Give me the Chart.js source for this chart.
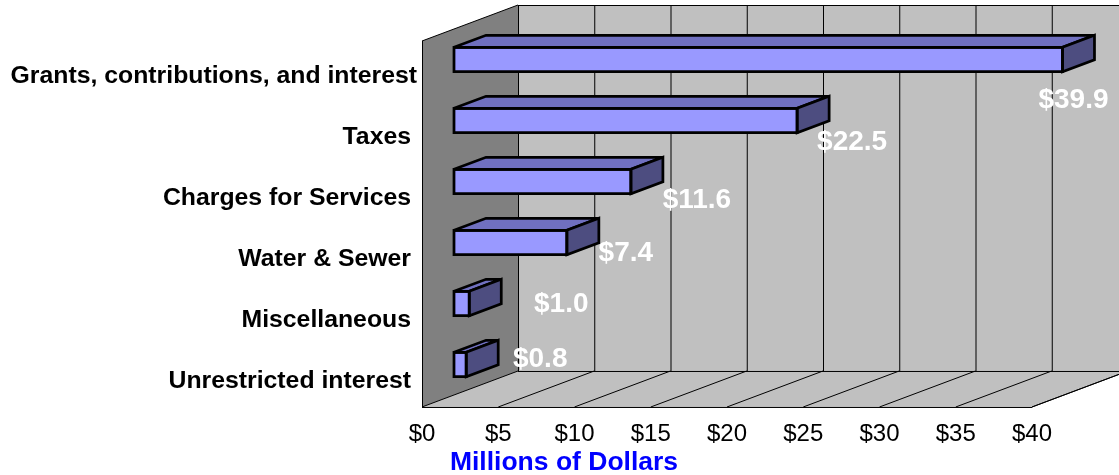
<!DOCTYPE html>
<html>
<head>
<meta charset="utf-8">
<title>Revenues by source</title>
<script src="https://cdn.jsdelivr.net/npm/chart.js@4/dist/chart.umd.js"></script>
<style>
  html, body { margin: 0; padding: 0; background: #fff; }
  canvas { display: block; }
</style>
</head>
<body>
<canvas id="revChart" width="1119" height="475"></canvas>
<script>
const categories = [
  "Grants, contributions, and interest",
  "Taxes",
  "Charges for Services",
  "Water & Sewer",
  "Miscellaneous",
  "Unrestricted interest"
];
const revenues = [39.9, 22.5, 11.6, 7.4, 1.0, 0.8];
const valueLabels = ["$39.9", "$22.5", "$11.6", "$7.4", "$1.0", "$0.8"];
const xTickLabels = ["$0", "$5", "$10", "$15", "$20", "$25", "$30", "$35", "$40"];

// hand placed data labels, px from the end of each bar to the label centre
const labelNudgeX = [11, 55, 66, 59, 92, 74];
const labelNudgeY = [41, 22, 19, 11, 1, -5];

// the bars stand in the middle third of the floor depth
const depthX = 32;
const depthY = 12;

function poly(ctx, pts, fill) {
  ctx.beginPath();
  pts.forEach((p, i) => i ? ctx.lineTo(p[0], p[1]) : ctx.moveTo(p[0], p[1]));
  ctx.closePath();
  if (fill) {
    ctx.fillStyle = fill;
    ctx.fill();
  }
}

function line(ctx, x1, y1, x2, y2) {
  ctx.beginPath();
  ctx.moveTo(x1, y1);
  ctx.lineTo(x2, y2);
  ctx.stroke();
}

const box3d = {
  id: "box3d",
  afterUpdate(chart) {
    const ys = chart.scales.y;
    // labels get clipped to the scale box, so open it up to the canvas edge
    ys.left = 0;
    // the long label sits further right than the others in the original
    ys.getLabelItems()[0].options.translation[0] += 6;
  },
  beforeDatasetsDraw(chart) {
    const ctx = chart.ctx;
    const area = chart.chartArea;
    const xs = chart.scales.x;
    const frontL = xs.getPixelForValue(0) - depthX;
    const frontR = xs.getPixelForValue(40) - depthX;
    const backL = frontL + depthX * 3;
    const backR = frontR + depthX * 3;
    const frontT = area.top + depthY;
    const frontB = area.bottom + depthY;
    const backT = frontT - depthY * 3;
    const backB = frontB - depthY * 3;

    ctx.save();
    poly(ctx, [[backL, backT], [backR, backT], [backR, backB], [backL, backB]], "#c0c0c0");
    poly(ctx, [[frontL, frontB], [frontR, frontB], [backR, backB], [backL, backB]], "#c0c0c0");
    poly(ctx, [[frontL, frontT], [backL, backT], [backL, backB], [frontL, frontB]], "#808080");

    ctx.strokeStyle = "#000";
    ctx.lineWidth = 1;
    xTickLabels.forEach((t, i) => {
      const v = i * 5;
      const fx = xs.getPixelForValue(v) - depthX;
      const bx = fx + depthX * 3;
      line(ctx, bx + 0.5, backT, bx + 0.5, backB);
      line(ctx, fx, frontB, bx, backB);
    });
    line(ctx, backL, backT + 0.5, backR, backT + 0.5);
    line(ctx, backL, backB + 0.5, backR, backB + 0.5);
    line(ctx, frontL, frontB + 0.5, frontR, frontB + 0.5);
    line(ctx, frontL + 0.5, frontT, frontL + 0.5, frontB);
    line(ctx, frontL, frontT, backL, backT);
    line(ctx, frontR, frontB, backR, backB);
    ctx.restore();
  },
  afterDatasetsDraw(chart) {
    const ctx = chart.ctx;
    const bars = chart.getDatasetMeta(0).data;
    ctx.save();
    ctx.strokeStyle = "#000";
    ctx.lineWidth = 2.75;
    ctx.lineJoin = "miter";
    ctx.miterLimit = 2;
    bars.forEach(el => {
      const l = el.base, r = el.x;
      const t = el.y - el.height / 2, b = el.y + el.height / 2;
      poly(ctx, [[l, t], [l + depthX, t - depthY], [r + depthX, t - depthY], [r, t]], "#7070c0");
      ctx.stroke();
      poly(ctx, [[r, t], [r + depthX, t - depthY], [r + depthX, b - depthY], [r, b]], "#4d4d80");
      ctx.stroke();
      poly(ctx, [[l, t], [r, t], [r, b], [l, b]]);
      ctx.stroke();
    });

    ctx.fillStyle = "#fff";
    ctx.font = "bold 28px 'Liberation Sans'";
    ctx.textAlign = "center";
    ctx.textBaseline = "middle";
    bars.forEach((el, i) => {
      ctx.fillText(valueLabels[i], el.x + labelNudgeX[i], el.y + labelNudgeY[i]);
    });
    ctx.restore();
  }
};

Chart.defaults.font.family = "'Liberation Sans', Arial, sans-serif";

new Chart(document.getElementById("revChart"), {
  type: "bar",
  plugins: [box3d],
  data: {
    labels: categories,
    datasets: [{
      data: revenues,
      backgroundColor: "#9999ff",
      borderWidth: 0,
      barPercentage: 0.4,
      categoryPercentage: 1
    }]
  },
  options: {
    indexAxis: "y",
    responsive: false,
    animation: false,
    layout: { autoPadding: false, padding: { top: 29, right: 55, left: 64, bottom: 0 } },
    plugins: {
      legend: { display: false },
      tooltip: { enabled: false },
      title: {
        display: true,
        position: "bottom",
        text: "Millions of Dollars",
        color: "#0000ff",
        font: { size: 26.5, weight: "bold", lineHeight: 0.925 },
        padding: 0
      }
    },
    scales: {
      x: {
        min: 0,
        max: 40,
        grid: { display: false, drawTicks: false },
        border: { display: false },
        ticks: {
          stepSize: 5,
          autoSkip: false,
          maxRotation: 0,
          color: "#000",
          font: { size: 24 },
          padding: 25,
          labelOffset: -depthX,
          callback: (v, i) => xTickLabels[i]
        },
        afterFit(scale) { scale.height = 55.5; }
      },
      y: {
        grid: { display: false, drawTicks: false },
        border: { display: false },
        ticks: {
          autoSkip: false,
          color: "#000",
          font: { size: 24.8, weight: "bold" },
          padding: 43,
          labelOffset: 17
        },
        afterFit(scale) {
          scale.width = 390;
          // tick padding would otherwise push the plot area down
          scale.paddingTop = 0;
          scale.paddingBottom = 0;
        }
      }
    }
  }
});
</script>
</body>
</html>
